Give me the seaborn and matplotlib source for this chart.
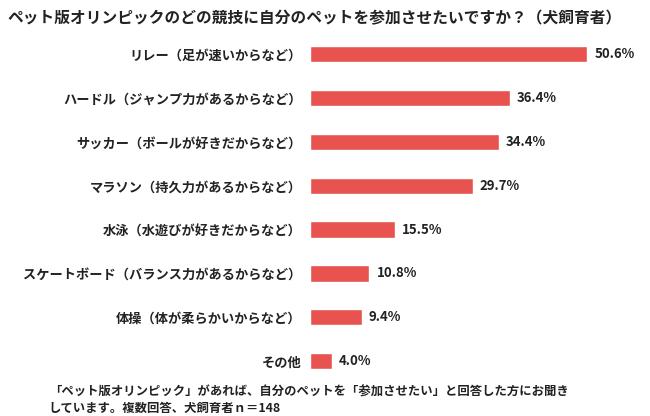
import matplotlib.pyplot as plt
import seaborn as sns
import pandas as pd

sns.set_theme(style="white")
plt.rcParams['font.family'] = ['Noto Sans CJK JP', 'DejaVu Sans']

categories = ["リレー（足が速いからなど）", "ハードル（ジャンプ力があるからなど）",
              "サッカー（ボールが好きだからなど）", "マラソン（持久力があるからなど）",
              "水泳（水遊びが好きだからなど）", "スケートボード（バランス力があるからなど）",
              "体操（体が柔らかいからなど）", "その他"]
values = [50.6, 36.4, 34.4, 29.7, 15.5, 10.8, 9.4, 4.0]

df = pd.DataFrame({"cat": categories, "val": values})

fig = plt.figure(figsize=(6.5, 4.16), dpi=100)
ax = fig.add_axes([0.477, 0.079, 0.506, 0.844])
sns.barplot(data=df, x="val", y="cat", color="#E8534F", saturation=1, width=0.37, ax=ax)
ax.set_xlim(0, 60)
ax.set_ylim(7.5, -0.5)
ax.set_xlabel("")
ax.set_ylabel("")
ax.set_xticks([])
for s in ax.spines.values():
    s.set_visible(False)
ax.tick_params(axis="y", length=0, pad=6)
for lbl in ax.get_yticklabels():
    lbl.set_fontweight("bold")
    lbl.set_fontsize(9.5)
    lbl.set_color("#222222")
for i, v in enumerate(values):
    ax.text(v + 1.3, i, f"{v:.1f}%", va="center", ha="left", fontsize=9.5,
            fontweight="bold", color="#222222")

fig.text(0.012, 0.955, "ペット版オリンピックのどの競技に自分のペットを参加させたいですか？（犬飼育者）",
         fontsize=11.3, fontweight="bold", color="#222222", va="center")
fig.text(0.075, 0.058, "「ペット版オリンピック」があれば、自分のペットを「参加させたい」と回答した方にお聞き",
         fontsize=8.9, fontweight="bold", color="#222222", va="center")
fig.text(0.075, 0.018, "しています。複数回答、犬飼育者ｎ＝148",
         fontsize=8.9, fontweight="bold", color="#222222", va="center")

fig.savefig("out.png", dpi=100)
